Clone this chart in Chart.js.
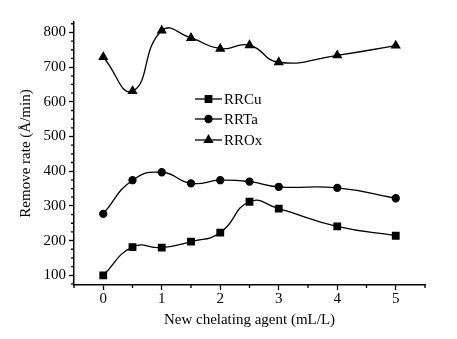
<!DOCTYPE html>
<html>
<head>
<meta charset="utf-8">
<script src="https://cdn.jsdelivr.net/npm/chart.js@4.4.0/dist/chart.umd.min.js"></script>
<style>
  html, body { margin: 0; padding: 0; background: #fff; }
  #wrap { width: 457px; height: 339px; }
</style>
</head>
<body>
<div id="wrap"><canvas id="myChart" width="457" height="339"></canvas></div>
<script>
// chelating agent concentration (mL/L)
const agentConc = [0, 0.5, 1, 1.5, 2, 2.5, 3, 4, 5];
const rrCu = [100, 181, 180, 197, 223, 312, 292, 241, 214];
const rrTa = [277, 374, 397, 365, 374, 370, 355, 352, 322];
const rrOx = [729, 631, 805, 784, 753, 763, 714, 734, 762];
const seriesNames = ['RRCu', 'RRTa', 'RROx'];
const yTickValues = [100, 200, 300, 400, 500, 600, 700, 800];
const xTickValues = [0, 1, 2, 3, 4, 5];

const serif = "'Liberation Serif', 'Times New Roman', serif";

const toPoints = (ys) => agentConc.map((x, i) => ({ x: x, y: ys[i] }));

const mkSet = (label, ys, style, r) => ({
    label: label,
    data: toPoints(ys),
    borderColor: '#000',
    backgroundColor: '#000',
    borderWidth: 1.3,
    pointStyle: style,
    pointRadius: r,
    pointHoverRadius: r,
    tension: 0.5,
    clip: false
});

// minor ticks + inside legend
const extras = {
    id: 'extras',
    afterDraw(chart) {
        const ctx = chart.ctx;
        const xs = chart.scales.x, ys = chart.scales.y;
        const area = chart.chartArea;
        ctx.save();
        ctx.strokeStyle = '#000';
        ctx.lineWidth = 1.3;
        ctx.beginPath();
        for (let v = -0.5; v <= 5.5; v += 1) {
            const px = xs.getPixelForValue(v);
            ctx.moveTo(px, area.bottom);
            ctx.lineTo(px, area.bottom + 3);
        }
        for (let v = 75; v <= 825; v += 25) {
            if (v % 100 === 0) continue;
            const py = ys.getPixelForValue(v);
            ctx.moveTo(area.left, py);
            ctx.lineTo(area.left - 3, py);
        }
        ctx.stroke();

        // legend
        const rows = [99, 119, 140];
        ctx.font = '15px ' + serif;
        ctx.textBaseline = 'middle';
        ctx.fillStyle = '#000';
        chart.data.datasets.forEach((ds, i) => {
            const y = rows[i];
            ctx.beginPath();
            ctx.moveTo(195, y);
            ctx.lineTo(222, y);
            ctx.lineWidth = 1.3;
            ctx.stroke();
            Chart.helpers.drawPoint(ctx, { pointStyle: ds.pointStyle, radius: ds.pointRadius, borderWidth: 1 }, 208.5, y);
            ctx.fill();
            ctx.fillText(seriesNames[i], 224, y + 1);
        });
        ctx.restore();
    }
};

const data = {
    datasets: [
        mkSet(seriesNames[0], rrCu, 'rect', 4.6),
        mkSet(seriesNames[1], rrTa, 'circle', 3.5),
        mkSet(seriesNames[2], rrOx, 'triangle', 4.6)
    ]
};

const config = {
    type: 'line',
    data: data,
    options: {
        responsive: false,
        animation: false,
        events: [],
        layout: { padding: { left: 0, right: 32, top: 22, bottom: 0 } },
        plugins: { legend: { display: false }, tooltip: { enabled: false } },
        scales: {
            x: {
                type: 'linear',
                min: -0.5,
                max: 5.5,
                afterBuildTicks: (s) => { s.ticks = xTickValues.map(v => ({ value: v })); },
                afterFit: (s) => { s.height = 54; },
                grid: { drawOnChartArea: false, tickLength: 5, tickWidth: 1.3, tickColor: '#000' },
                border: { color: '#000', width: 1.5 },
                ticks: { color: '#000', font: { family: serif, size: 15 }, padding: 0, maxRotation: 0 },
                title: { display: true, text: 'New chelating agent (mL/L)', color: '#000', font: { family: serif, size: 15 }, padding: { top: 0, bottom: 10 } }
            },
            y: {
                type: 'linear',
                min: 72,
                max: 830,
                afterBuildTicks: (s) => { s.ticks = yTickValues.map(v => ({ value: v })); },
                afterFit: (s) => { s.width = 74; },
                grid: { drawOnChartArea: false, tickLength: 5, tickWidth: 1.3, tickColor: '#000' },
                border: { color: '#000', width: 1.5 },
                ticks: { color: '#000', font: { family: serif, size: 15 }, padding: 3 },
                title: { display: true, text: 'Remove rate (Å/min)', color: '#000', font: { family: serif, size: 15 }, padding: { top: 17, bottom: 0 } }
            }
        }
    },
    plugins: [extras]
};

let myChart = new Chart(
    document.getElementById('myChart'),
    config
);
</script>
</body>
</html>
